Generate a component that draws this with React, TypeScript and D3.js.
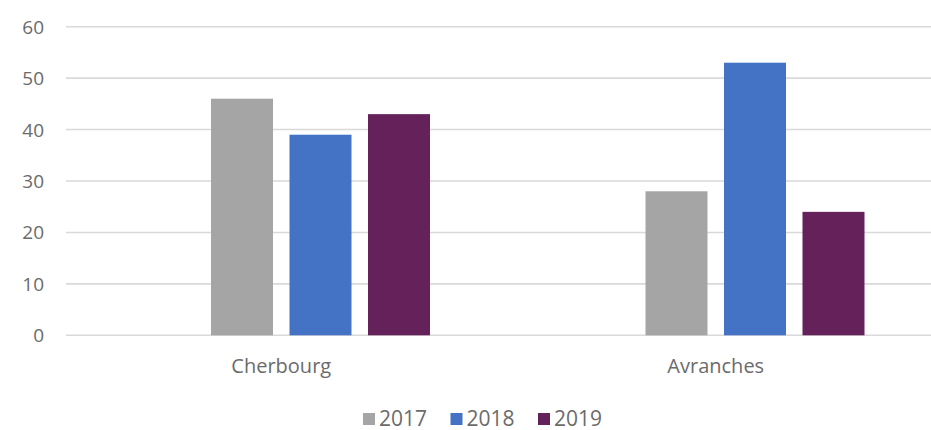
import React from "react";
import * as d3 from "d3";

const categories = ["Cherbourg", "Avranches"];
// first slot is an empty series (no data) in the original chart
const seriesSlots = ["", "2017", "2018", "2019"];
const seriesNames = ["2017", "2018", "2019"];
const values2017 = [46, 28];
const values2018 = [39, 53];
const values2019 = [43, 24];
const yTicks = [0, 10, 20, 30, 40, 50, 60];
const colors = ["#a5a5a5", "#4472c4", "#65215a"];

const W = 931;
const H = 430;

export default function App() {
  const seriesValues = [values2017, values2018, values2019];
  const y = d3.scaleLinear().domain([0, 60]).range([335.3, 26.7]);
  const x = d3.scaleBand<string>().domain(categories).range([64, 933]).paddingInner(0).paddingOuter(0);
  const bw = x.bandwidth();
  const groupW = 297.5;
  const inner = d3
    .scaleBand<string>()
    .domain(seriesSlots)
    .range([(bw - groupW) / 2, (bw + groupW) / 2])
    .paddingInner(16.5 / 78.5)
    .paddingOuter(0);
  const font = "'Open Sans', 'DejaVu Sans', sans-serif";
  const textColor = "#6b6b6b";
  const legendX = d3.scaleLinear().domain([0, 1]).range([363, 450.5]);

  return (
    <svg
      width={W}
      height={H}
      style={{ position: "absolute", left: 0, top: 0, background: "#ffffff" }}
      fontFamily={font}
    >
      <rect x={0} y={0} width={W} height={H} fill="#ffffff" />
      {yTicks.map((t) => (
        <g key={t}>
          <line x1={66} x2={W} y1={y(t)} y2={y(t)} stroke="#d9d9d9" strokeWidth={1.6} />
          <text
            x={44}
            y={y(t)}
            textAnchor="end"
            dominantBaseline="central"
            fontSize={19}
            fill={textColor}
          >
            {t}
          </text>
        </g>
      ))}
      {categories.map((c, ci) => (
        <g key={c} transform={`translate(${x(c)},0)`}>
          {seriesNames.map((s, si) => {
            const v = seriesValues[si][ci];
            return (
              <rect
                key={s}
                x={inner(s)}
                y={y(v)}
                width={inner.bandwidth()}
                height={y(0) - y(v)}
                fill={colors[si]}
              />
            );
          })}
          <text x={bw / 2} y={373} textAnchor="middle" fontSize={20} fill={textColor}>
            {c}
          </text>
        </g>
      ))}
      {seriesNames.map((s, i) => (
        <g key={s} transform={`translate(${legendX(i)},0)`}>
          <rect x={0} y={413} width={12} height={12} fill={colors[i]} />
          <text x={16} y={425.5} fontSize={21} fill={textColor}>
            {s}
          </text>
        </g>
      ))}
    </svg>
  );
}
